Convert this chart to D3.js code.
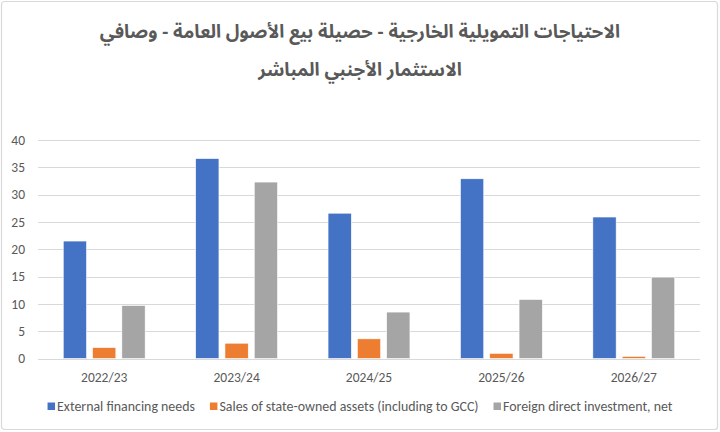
<!DOCTYPE html>
<html>
<head>
<meta charset="utf-8">
<script src="https://cdn.jsdelivr.net/npm/d3@7"></script>
<style>
  html, body { margin: 0; padding: 0; background: #fff; }
  svg { display: block; font-family: Calibri, Carlito, "Liberation Sans", "Open Sans", sans-serif; }
</style>
</head>
<body>
<svg id="chart" width="720" height="432"></svg>
<script>
const TITLE_LINES = [
  "الاحتياجات التمويلية الخارجية - حصيلة بيع الأصول العامة - وصافي",
  "الاستثمار الأجنبي المباشر",
];
const YEARS = ["2022/23", "2023/24", "2024/25", "2025/26", "2026/27"];
const SERIES = [
  "External financing needs",
  "Sales of state-owned assets (including to GCC)",
  "Foreign direct investment, net",
];
const FINANCING = [21.5, 36.6, 26.6, 32.9, 25.9];
const ASSET_SALES = [2.0, 2.8, 3.6, 0.95, 0.4];
const FDI = [9.7, 32.3, 8.5, 10.8, 14.9];
const Y_TICKS = [0, 5, 10, 15, 20, 25, 30, 35, 40];

const COLORS = ["#4472c4", "#ed7d31", "#a5a5a5"];
const values = [FINANCING, ASSET_SALES, FDI];

const W = 720, H = 432;
const svg = d3.select("#chart");

// frame
svg.append("rect")
  .attr("x", 1.5).attr("y", 1.5)
  .attr("width", W - 4).attr("height", H - 4)
  .attr("rx", 3)
  .attr("fill", "#fff")
  .attr("stroke", "#d9d9d9")
  .attr("stroke-width", 1.2);

// title
svg.append("g")
  .selectAll("text")
  .data(TITLE_LINES)
  .join("text")
  .attr("x", W / 2)
  .attr("y", (d, i) => 38 + i * 38)
  .attr("text-anchor", "middle")
  .attr("direction", "rtl")
  .attr("font-family", "'Noto Sans Arabic', 'DejaVu Sans', sans-serif")
  .attr("font-weight", "bold")
  .attr("font-size", 18.6)
  .attr("fill", "#595959")
  .text((d) => d);

const plotLeft = 38, plotRight = 700, plotTop = 140, plotBottom = 358.5;

const x = d3.scaleBand().domain(YEARS).range([plotLeft, plotRight]);
const y = d3.scaleLinear().domain([0, 40]).range([plotBottom, plotTop]);

// gridlines
svg.append("g")
  .selectAll("line")
  .data(Y_TICKS)
  .join("line")
  .attr("x1", plotLeft).attr("x2", plotRight)
  .attr("y1", (d) => Math.round(y(d)) + 0.5)
  .attr("y2", (d) => Math.round(y(d)) + 0.5)
  .attr("stroke", "#d9d9d9")
  .attr("stroke-width", 1);

// y tick labels
svg.append("g")
  .selectAll("text")
  .data(Y_TICKS)
  .join("text")
  .attr("x", 25)
  .attr("y", (d) => y(d))
  .attr("dy", "0.35em")
  .attr("text-anchor", "end")
  .attr("font-size", 13.5)
  .attr("fill", "#595959")
  .text((d) => d);

// bars
const barW = 23.3, gap = 6;
const groupW = barW * 3 + gap * 2;
const inner = d3.scaleBand().domain(d3.range(3)).range([0, groupW]).paddingInner(gap / (barW + gap));

SERIES.forEach((s, si) => {
  svg.append("g")
    .selectAll("rect")
    .data(YEARS)
    .join("rect")
    .attr("x", (d) => x(d) + x.bandwidth() / 2 - groupW / 2 + inner(si))
    .attr("y", (d, i) => y(values[si][i]))
    .attr("width", inner.bandwidth())
    .attr("height", (d, i) => y(0) - y(values[si][i]))
    .attr("fill", COLORS[si])
    .attr("stroke", "#fff")
    .attr("stroke-width", 0.6);
});

// x labels
svg.append("g")
  .selectAll("text")
  .data(YEARS)
  .join("text")
  .attr("x", (d) => x(d) + x.bandwidth() / 2)
  .attr("y", 381.5)
  .attr("text-anchor", "middle")
  .attr("font-size", 13.5)
  .attr("fill", "#595959")
  .text((d) => d);

// legend
const legG = svg.append("g");
let lx = 0;
SERIES.forEach((s, i) => {
  const g = legG.append("g").attr("transform", `translate(${lx},0)`);
  g.append("rect")
    .attr("x", 0).attr("y", -8.5)
    .attr("width", 7.5).attr("height", 7.5)
    .attr("fill", COLORS[i]);
  const t = g.append("text")
    .attr("x", 9.5).attr("y", 0)
    .attr("font-size", 13.9)
    .attr("fill", "#595959")
    .text(s);
  lx += 9.5 + t.node().getComputedTextLength() + 15;
});
const totalW = lx - 15;
legG.attr("transform", `translate(${W / 2 - totalW / 2},411)`);
</script>
</body>
</html>
